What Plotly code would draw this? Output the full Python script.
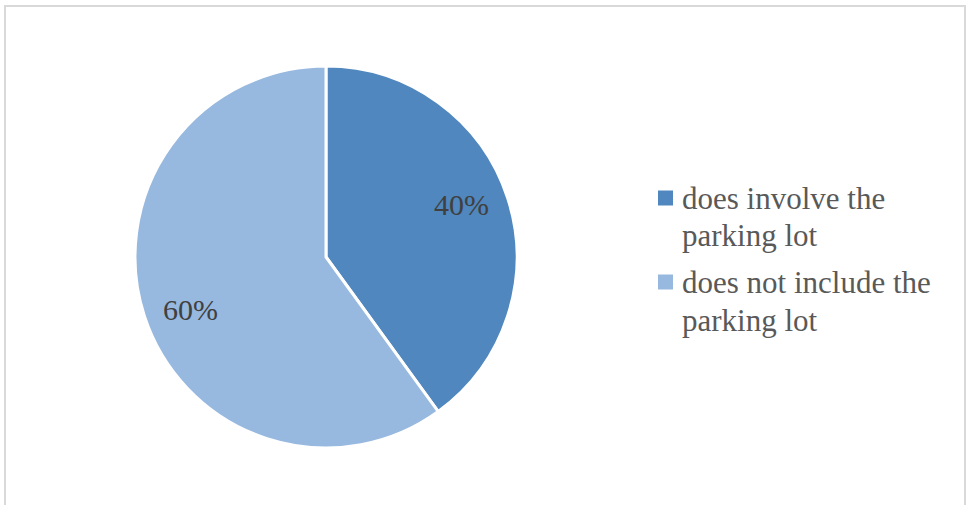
import math
import plotly.graph_objects as go

# Share of incidents by parking-lot involvement
categories = ["does involve the<br>parking lot", "does not include the<br>parking lot"]
shares = [40, 60]
colors = ["#4F87BE", "#97B8DF"]

W, H = 966, 505
cx, cy, radius = 326, 257, 191  # pie centre and radius in pixels
SERIF = "Liberation Serif, Times New Roman, serif"

fig = go.Figure()
fig.add_trace(go.Pie(
    labels=[c.replace("<br>", " ") for c in categories],
    values=shares,
    sort=False,
    direction="clockwise",
    rotation=0,
    textinfo="none",
    hoverinfo="label+percent",
    showlegend=False,
    marker=dict(colors=colors, line=dict(color="white", width=3)),
    domain=dict(x=[(cx - radius) / W, (cx + radius) / W],
                y=[(H - cy - radius) / H, (H - cy + radius) / H]),
))

# Percentage labels placed near each slice's mid-angle
total = sum(shares)
start = 0.0
annotations = []
shapes = []
for v in shares:
    frac = v / total
    mid = (start + frac / 2) * 2 * math.pi - math.radians(3)
    start += frac
    r_lab = 0.76 * radius
    px = cx + r_lab * math.sin(mid)
    py = cy - r_lab * math.cos(mid)
    annotations.append(dict(
        x=px / W, y=1 - py / H, xref="paper", yref="paper",
        text=f"{round(100 * frac)}%", showarrow=False,
        font=dict(family=SERIF, size=30, color="#404040"),
        xanchor="center", yanchor="middle",
    ))

# Legend: square swatch plus wrapped category text
line_gap = 38
item_top = 198
for i, (cat, col) in enumerate(zip(categories, colors)):
    lines = cat.split("<br>")
    shapes.append(dict(
        type="rect", xref="paper", yref="paper",
        x0=658 / W, x1=673 / W,
        y0=1 - (item_top + 7.5) / H, y1=1 - (item_top - 7.5) / H,
        fillcolor=col, line=dict(width=0),
    ))
    for j, ln in enumerate(lines):
        annotations.append(dict(
            x=680 / W, y=1 - (item_top + j * line_gap) / H,
            xref="paper", yref="paper", text=ln, showarrow=False,
            font=dict(family=SERIF, size=31, color="#595959"),
            xanchor="left", yanchor="middle",
        ))
    item_top += len(lines) * line_gap + 8

# Light grey chart-area frame
shapes.append(dict(
    type="rect", xref="paper", yref="paper",
    x0=5 / W, x1=965 / W, y0=-0.02, y1=1 - 6 / H,
    line=dict(color="#D9D9D9", width=2),
))

fig.update_layout(
    width=W, height=H,
    margin=dict(l=0, r=0, t=0, b=0),
    paper_bgcolor="white",
    plot_bgcolor="white",
    showlegend=False,
    annotations=annotations,
    shapes=shapes,
)

fig.write_html("out.html")
